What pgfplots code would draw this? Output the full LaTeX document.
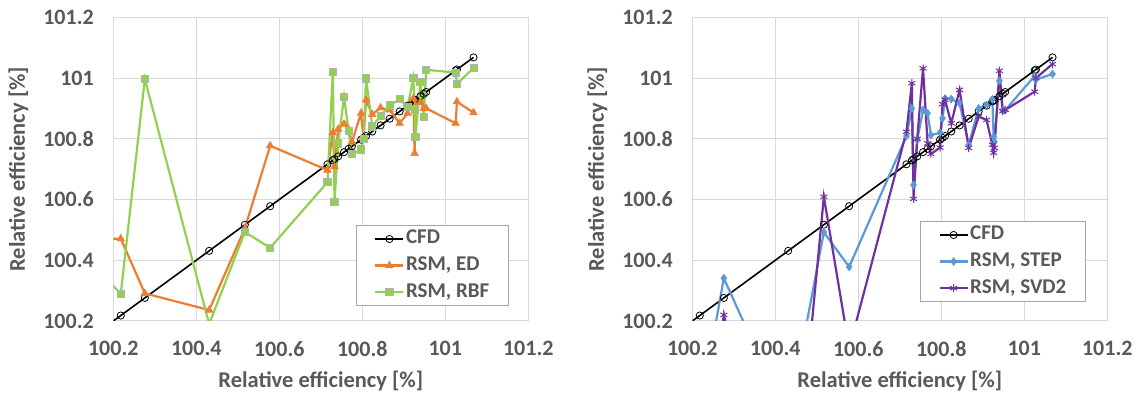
\documentclass[border=0pt]{standalone}
\usepackage{fontspec}
\setmainfont{Carlito}[BoldFont={Carlito Bold}]
\usepackage{pgfplots}
\usepackage{pgfplotstable}
\pgfplotsset{compat=1.18}
\definecolor{edorange}{RGB}{237,125,49}
\definecolor{rbfgreen}{RGB}{146,208,80}
\definecolor{stepblue}{RGB}{91,155,213}
\definecolor{svdpurple}{RGB}{112,48,160}
\definecolor{txtgray}{RGB}{89,89,89}
\definecolor{gridgray}{RGB}{217,217,217}
\definecolor{leggray}{RGB}{166,166,166}

\pgfplotstableread{
x       cfd     ed      rbf     step    svd
100.170 100.170 100.470 100.360 99.800  99.600
100.218 100.218 100.471 100.289 99.900  99.600
100.276 100.276 100.291 100.997 100.341 100.220
100.431 100.431 100.236 100.190 99.870  99.370
100.517 100.517 100.505 100.493 100.492 100.609
100.578 100.578 100.777 100.441 100.378 100.110
100.716 100.716 100.697 100.657 100.809 100.823
100.729 100.729 100.820 101.021 100.900 100.983
100.733 100.733 100.708 100.593 100.648 100.602
100.742 100.742 100.832 100.785 100.796 100.800
100.756 100.756 100.849 100.938 100.895 101.032
100.767 100.767 100.830 100.825 100.884 100.785
100.775 100.775 100.790 100.749 100.812 100.750
100.797 100.797 100.884 100.765 100.820 100.771
100.803 100.803 100.800 100.799 100.867 100.914
100.809 100.809 100.928 100.999 100.933 100.928
100.824 100.824 100.880 100.841 100.931 100.851
100.844 100.844 100.902 100.876 100.917 100.961
100.866 100.866 100.895 100.910 100.780 100.770
100.890 100.890 100.851 100.930 100.900 100.873
100.909 100.909 100.884 100.904 100.911 100.862
100.923 100.923 100.933 101.000 100.930 100.780
100.926 100.926 100.752 100.897 100.807 100.754
100.928 100.928 100.910 100.807 100.790 100.770
100.940 100.940 100.920 100.988 100.991 101.024
100.948 100.948 100.900 100.873 100.894 100.891
100.954 100.954 100.900 101.027 100.894 100.895
101.025 101.025 100.851 101.018 101.007 100.955
101.028 101.028 100.922 100.980 100.995 101.000
101.068 101.068 100.886 101.033 101.013 101.046
}\data

\newcommand{\tickfont}{\fontsize{22}{24}\selectfont\bfseries}
\newcommand{\lblfont}{\fontsize{22.5}{24}\selectfont\bfseries}
\newcommand{\legfont}{\fontsize{21}{23}\selectfont\bfseries}
\pgfplotsset{
  myaxis/.style={
    scale only axis, width=415pt, height=303.7pt,
    xmin=100.2, xmax=101.2, ymin=100.2, ymax=101.2,
    xtick={100.2,100.4,100.6,100.8,101,101.2},
    xticklabels={100.2,100.4,100.6,100.8,101,101.2},
    ytick={100.2,100.4,100.6,100.8,101,101.2},
    yticklabels={100.2,100.4,100.6,100.8,101,101.2},
    grid=major, major grid style={gridgray, line width=1pt},
    axis line style={gridgray, line width=1pt},
    major tick length=0pt, tick style={draw=none},
    tick label style={font=\tickfont, text=txtgray},
    xticklabel style={yshift=-17pt},
    yticklabel style={xshift=-16pt},
    xlabel={Relative efficiency [\%]},
    ylabel={Relative efficiency [\%]},
    every axis x label/.style={at={(axis description cs:0.5,-0.199)}, anchor=center, font=\lblfont, text=txtgray},
    every axis y label/.style={at={(axis description cs:-0.2284,0.5)}, rotate=90, anchor=center, font=\lblfont, text=txtgray},
    legend style={font=\legfont, text=txtgray,
      draw=leggray, line width=1pt, fill=white, at={(1,0)}, anchor=south east,
      inner xsep=18pt, inner ysep=0pt, cells={anchor=west}, row sep=0pt,
      nodes={text height=15pt, text depth=5pt, inner ysep=3.3pt, inner xsep=1.5pt}},
    legend image code/.code={\draw[mark repeat=2,mark phase=2,##1] plot coordinates {(0pt,0pt) (14pt,0pt) (28pt,0pt)};},
  },
  cfdstyle/.style={black, line width=1.6pt, mark=o, mark size=3.6pt, mark options={line width=0.8pt, fill=white}},
}

\begin{document}
\begin{tikzpicture}
\useasboundingbox (0,0) rectangle (1138pt,396pt);
\begin{axis}[myaxis, at={(113.3pt,75pt)}, anchor=south west,
  legend style={xshift=-19pt, yshift=15pt}]
\addplot[cfdstyle] table[x=x, y=cfd] {\data};
\addlegendentry{CFD}
\addplot[edorange, line width=2.2pt, mark=triangle*, mark size=4.4pt, mark options={line width=0.5pt}] table[x=x, y=ed] {\data};
\addlegendentry{RSM, ED}
\addplot[rbfgreen, line width=2.2pt, mark=square*, mark size=3.6pt, mark options={draw=black!30, fill=rbfgreen, line width=0.8pt}] table[x=x, y=rbf] {\data};
\addlegendentry{RSM, RBF}
\end{axis}
\begin{axis}[myaxis, at={(692.3pt,75pt)}, anchor=south west,
  legend style={xshift=-21pt, yshift=19pt}]
\addplot[cfdstyle] table[x=x, y=cfd] {\data};
\addlegendentry{CFD}
\addplot[stepblue, line width=2.2pt, mark=diamond*, mark size=4pt, mark options={line width=0.5pt}] table[x=x, y=step] {\data};
\addlegendentry{RSM, STEP}
\addplot[svdpurple, line width=2.2pt, mark=asterisk, mark size=4pt, mark options={line width=1pt}] table[x=x, y=svd] {\data};
\addlegendentry{RSM, SVD2}
\end{axis}
\end{tikzpicture}
\end{document}
